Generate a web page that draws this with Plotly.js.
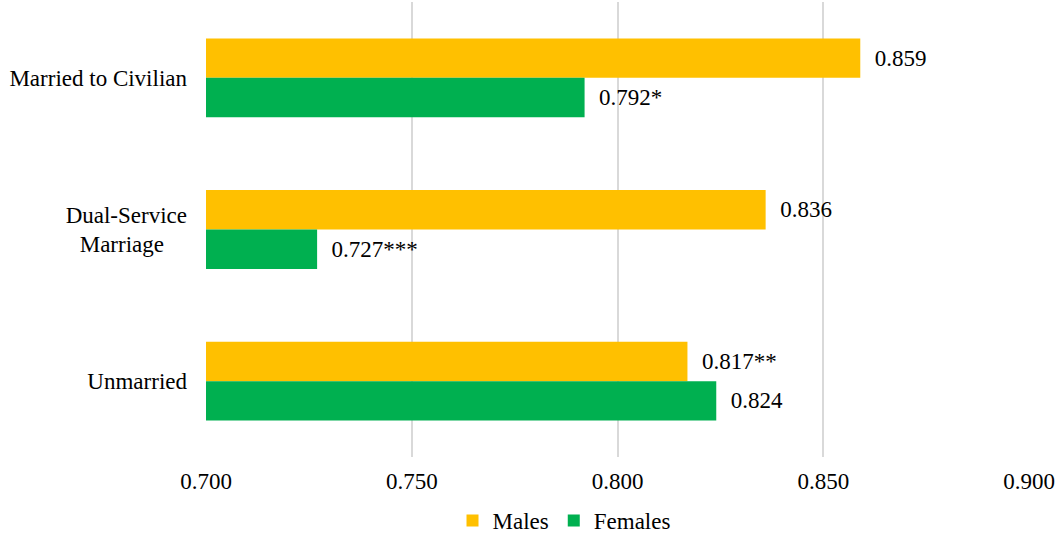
<!DOCTYPE html>
<html>
<head>
<meta charset="utf-8">
<script src="https://cdn.plot.ly/plotly-3.0.1.min.js"></script>
<style>
  html, body { margin: 0; padding: 0; background: #fff; }
  #chart { width: 1058px; height: 542px; }
</style>
</head>
<body>
<div id="chart"></div>
<script>
var categories = ["Married to Civilian", "Dual-Service<br>Marriage\u00a0\u00a0\u00a0\u00a0", "Unmarried"];
var males = [0.859, 0.836, 0.817];
var females = [0.792, 0.727, 0.824];
var maleLabels = ["0.859", "0.836", "0.817**"];
var femaleLabels = ["0.792*", "0.727***", "0.824"];
var xTicks = [0.700, 0.750, 0.800, 0.850, 0.900];
var xTickLabels = ["0.700", "0.750", "0.800", "0.850", "0.900"];

var font = "Liberation Serif, Times New Roman, serif";
var fs = 23;

var traces = [
  {
    type: "bar", orientation: "h", name: "Males",
    y: categories, x: males, text: maleLabels,
    texttemplate: "\u2002%{text}", textposition: "outside", constraintext: "none",
    cliponaxis: false,
    textfont: { family: font, size: fs, color: "#000" },
    marker: { color: "#FFC000" }, hoverinfo: "x+name"
  },
  {
    type: "bar", orientation: "h", name: "Females",
    y: categories, x: females, text: femaleLabels,
    texttemplate: "\u2002%{text}", textposition: "outside", constraintext: "none",
    cliponaxis: false,
    textfont: { family: font, size: fs, color: "#000" },
    marker: { color: "#00B050" }, hoverinfo: "x+name"
  }
];

var layout = {
  width: 1058, height: 542,
  margin: { l: 206, r: 29, t: 2, b: 85, autoexpand: false },
  paper_bgcolor: "#fff", plot_bgcolor: "#fff",
  font: { family: font, size: fs, color: "#000" },
  barmode: "group", bargap: 0.48, bargroupgap: 0,
  xaxis: {
    range: [0.7, 0.9], tickvals: xTicks, ticktext: xTickLabels,
    showgrid: true, gridcolor: "#d9d9d9", gridwidth: 2,
    zeroline: false, showline: false, ticks: "",
    ticklabelstandoff: 8,
    tickfont: { family: font, size: fs, color: "#000" }
  },
  yaxis: {
    type: "category", autorange: "reversed",
    showgrid: false, zeroline: false, showline: false, ticks: "",
    ticklabelstandoff: 18,
    tickfont: { family: font, size: fs, color: "#000" }
  },
  showlegend: true,
  legend: {
    orientation: "h", x: 0.435, xanchor: "center",
    yref: "container", y: 0, yanchor: "bottom",
    font: { family: font, size: fs, color: "#000" },
    itemwidth: 30
  }
};

Plotly.newPlot("chart", traces, layout, { displayModeBar: false, staticPlot: true });
</script>
</body>
</html>
